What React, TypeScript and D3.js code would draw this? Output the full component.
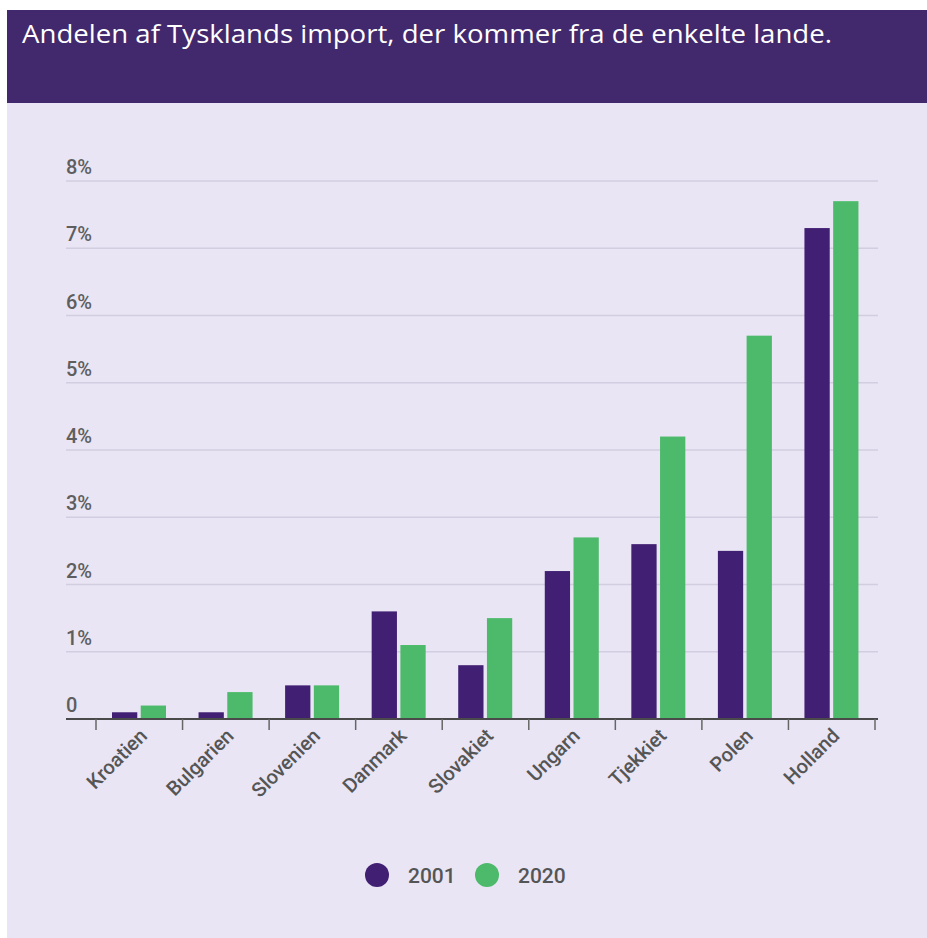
import React from "react";
import * as d3 from "d3";

const countries = ["Kroatien", "Bulgarien", "Slovenien", "Danmark", "Slovakiet", "Ungarn", "Tjekkiet", "Polen", "Holland"];
const values2001 = [0.1, 0.1, 0.5, 1.6, 0.8, 2.2, 2.6, 2.5, 7.3];
const values2020 = [0.2, 0.4, 0.5, 1.1, 1.5, 2.7, 4.2, 5.7, 7.7];
const seriesNames = ["2001", "2020"];
const seriesColors = ["#411f72", "#4cba6a"];
const yTicks = [0, 1, 2, 3, 4, 5, 6, 7, 8];
const yTickLabels = ["0", "1%", "2%", "3%", "4%", "5%", "6%", "7%", "8%"];
const title = "Andelen af Tysklands import, der kommer fra de enkelte lande.";

export default function App() {
  const W = 927, H = 938;
  const gridLeft = 66, gridRight = 878;
  const x0 = d3.scaleBand<string>().domain(countries).range([96, 875]).paddingInner(0).paddingOuter(0);
  const x1 = d3.scaleBand<string>().domain(seriesNames).range([16, 70]).paddingInner(0.12);
  const y = d3.scaleLinear().domain([0, 8]).range([719, 181]);
  const series = [values2001, values2020];
  const tickPositions = countries.map((c) => x0(c) as number).concat([875]);
  const font = "Roboto, 'Noto Sans', sans-serif";

  return (
    <div style={{ position: "absolute", left: 0, top: 0 }}>
      <svg width={W} height={H} style={{ display: "block" }}>
        <rect x={0} y={0} width={W} height={H} fill="#ffffff" />
        <rect x={7} y={10} width={W - 7} height={93} fill="#42286d" />
        <rect x={7} y={103} width={W - 7} height={H - 103} fill="#e9e5f4" />
        <text x={22} y={43} fill="#ffffff" fontFamily="'Open Sans', 'Noto Sans', sans-serif" fontSize={26}
          textLength={810} lengthAdjust="spacingAndGlyphs">{title}</text>

        {yTicks.map((t, i) => (
          <g key={t}>
            {t > 0 && <line x1={gridLeft} x2={gridRight} y1={y(t)} y2={y(t)} stroke="#d2cde0" strokeWidth={1.5} />}
            <text x={gridLeft} y={y(t) - 7} fill="#5e5e5e" fontFamily={font} fontSize={20} fontWeight={500}>{yTickLabels[i]}</text>
          </g>
        ))}

        {countries.map((c, ci) => (
          <g key={c} transform={`translate(${x0(c)},0)`}>
            {series.map((vals, si) => (
              <rect key={si} x={x1(seriesNames[si])} y={y(vals[ci])} width={x1.bandwidth()}
                height={y(0) - y(vals[ci])} fill={seriesColors[si]} />
            ))}
          </g>
        ))}

        <line x1={gridLeft} x2={gridRight} y1={y(0)} y2={y(0)} stroke="#4a4a4a" strokeWidth={2} />
        {tickPositions.map((tx, i) => (
          <line key={i} x1={tx} x2={tx} y1={y(0)} y2={y(0) + 11} stroke="#666" strokeWidth={1.5} />
        ))}

        {countries.map((c) => {
          const cx = (x0(c) as number) + x0.bandwidth() / 2 + 9;
          const cy = 737;
          return (
            <text key={c} x={cx} y={cy} textAnchor="end" fill="#555" fontFamily={font} fontSize={20} fontWeight={500}
              transform={`rotate(-45 ${cx} ${cy})`}>{c}</text>
          );
        })}

        {seriesNames.map((s, i) => {
          const lx = 377 + i * 110;
          return (
            <g key={s}>
              <circle cx={lx} cy={875} r={12} fill={seriesColors[i]} />
              <text x={lx + 31} y={875} dy="0.36em" fill="#555" fontFamily={font} fontSize={21} fontWeight={500}>{s}</text>
            </g>
          );
        })}
      </svg>
    </div>
  );
}
